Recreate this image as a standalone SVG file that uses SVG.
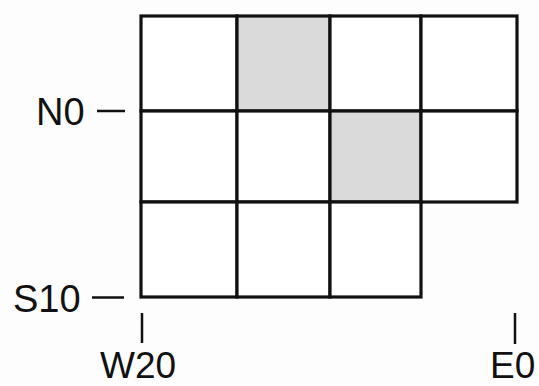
<svg xmlns="http://www.w3.org/2000/svg" width="539" height="386" viewBox="0 0 539 386">
<style>
.cell{fill:#fff;stroke:#111;stroke-width:3.2}
.shade{fill:#dadada}
.lbl{font-family:"Liberation Sans",Arial,sans-serif;font-size:38px;fill:#111}
.bot{font-size:37px}
.tick{stroke:#111;stroke-width:2.5;fill:none}
</style>
<rect width="539" height="386" fill="#fdfdfd"/>
<g id="grid">
<rect class="cell" x="141" y="16" width="96" height="95"/>
<rect class="cell shade" x="237" y="16" width="93" height="95"/>
<rect class="cell" x="330" y="16" width="91" height="95"/>
<rect class="cell" x="421" y="16" width="96" height="95"/>
<rect class="cell" x="141" y="111" width="96" height="91"/>
<rect class="cell" x="237" y="111" width="93" height="91"/>
<rect class="cell shade" x="330" y="111" width="91" height="91"/>
<rect class="cell" x="421" y="111" width="96" height="91"/>
<rect class="cell" x="141" y="202" width="96" height="95"/>
<rect class="cell" x="237" y="202" width="93" height="95"/>
<rect class="cell" x="330" y="202" width="91" height="95"/>
</g>
<g id="labels">
<text class="lbl" x="36" y="125">N0</text>
<line class="tick" x1="97" y1="111" x2="125" y2="111"/>
<text class="lbl" x="13" y="312">S10</text>
<line class="tick" x1="92" y1="297.5" x2="124" y2="297.5"/>
<line class="tick" x1="142" y1="313" x2="142" y2="343"/>
<text class="lbl bot" x="100" y="378">W20</text>
<line class="tick" x1="515" y1="313" x2="515" y2="344"/>
<text class="lbl bot" x="490" y="378">E0</text>
</g>
</svg>
